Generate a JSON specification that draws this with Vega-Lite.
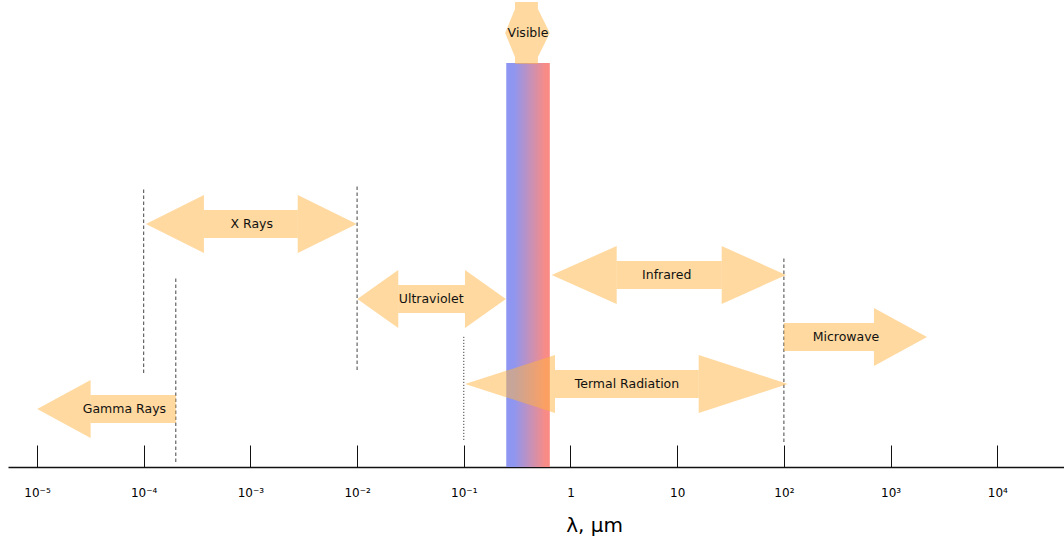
{
  "$schema": "https://vega.github.io/schema/vega-lite/v6.json",
  "width": 1056,
  "height": 467,
  "autosize": {"type": "none"},
  "padding": {"left": 8, "top": 0, "right": 0, "bottom": 75},
  "background": "white",
  "config": {
    "view": {"stroke": null},
    "axisX": {
      "labelExpr": "['10⁻⁵','10⁻⁴','10⁻³','10⁻²','10⁻¹','1','10','10²','10³','10⁴'][round(log(datum.value)/LN10)+5]",
      "grid": false,
      "domainColor": "#111111",
      "domainWidth": 1.5,
      "tickColor": "#111111",
      "tickWidth": 1,
      "tickSize": -22,
      "labelFont": "DejaVu Sans",
      "labelFontSize": 12,
      "labelColor": "#000000",
      "labelPadding": 42,
      "labelFlush": false,
      "labelOverlap": false,
      "titleFont": "DejaVu Sans",
      "titleFontSize": 20,
      "titleFontWeight": "normal",
      "titleColor": "#000000",
      "titleX": 586,
      "titleY": 58,
      "titleAlign": "center",
      "titleBaseline": "middle"
    }
  },
  "datasets": {
    "bands": [
      {"band": "Gamma Rays", "from": 3.18e-5, "to": 2e-4, "level": 58, "labelAt": 6.6e-5, "heads": "left"},
      {"band": "X Rays", "from": 3.67e-4, "to": 2.78e-3, "level": 243, "labelAt": 1.03e-3, "heads": "both"},
      {"band": "Ultraviolet", "from": 0.0243, "to": 0.1026, "level": 168, "labelAt": 0.0495, "heads": "both"},
      {"band": "Visible", "from": 0.302, "to": 0.495, "level": 434, "labelAt": 0.40, "heads": "both"},
      {"band": "Infrared", "from": 2.71, "to": 26.1, "level": 192, "labelAt": 7.97, "heads": "both"},
      {"band": "Termal Radiation", "from": 0.716, "to": 15.9, "level": 83, "labelAt": 3.38, "heads": "both"},
      {"band": "Microwave", "from": 100, "to": 698, "level": 130, "labelAt": 382, "heads": "right"}
    ],
    "boundaries": [
      {"at": 1e-4, "bottom": 94, "top": 279},
      {"at": 2e-4, "bottom": 5, "top": 189},
      {"at": 1e-2, "bottom": 97, "top": 283},
      {"at": 100, "bottom": 25, "top": 211}
    ],
    "fineBoundaries": [
      {"at": 0.1, "bottom": 27, "top": 132}
    ],
    "visibleBand": [
      {"lo": 0.25, "hi": 0.64, "bottom": 0, "top": 404}
    ]
  },
  "layer": [
    {
      "data": {"name": "boundaries"},
      "mark": {"type": "rule", "color": "#444444", "strokeWidth": 1, "strokeDash": [3.5, 2.5]},
      "encoding": {
        "x": {
          "field": "at", "type": "quantitative", "title": "λ, μm",
          "scale": {"type": "log", "domain": [5.35e-6, 42170], "nice": false, "zero": false},
          "axis": {"values": [1e-5, 1e-4, 1e-3, 1e-2, 0.1, 1, 10, 100, 1000, 10000]}
        },
        "y": {"field": "bottom", "type": "quantitative", "scale": {"domain": [0, 467], "nice": false, "zero": false}, "axis": null},
        "y2": {"field": "top"}
      }
    },
    {
      "data": {"name": "fineBoundaries"},
      "mark": {"type": "rule", "color": "#444444", "strokeWidth": 1, "strokeDash": [1.2, 1.8]},
      "encoding": {
        "x": {"field": "at", "type": "quantitative", "title": "λ, μm", "scale": {"type": "log", "domain": [5.35e-6, 42170], "nice": false, "zero": false}},
        "y": {"field": "bottom", "type": "quantitative", "scale": {"domain": [0, 467], "nice": false, "zero": false}, "axis": null},
        "y2": {"field": "top"}
      }
    },
    {
      "data": {"name": "visibleBand"},
      "mark": {
        "type": "rect",
        "fill": {
          "gradient": "linear", "x1": 0, "y1": 0, "x2": 1, "y2": 0,
          "stops": [
            {"offset": 0, "color": "#8D96F2"},
            {"offset": 0.18, "color": "#8F96F0"},
            {"offset": 0.9, "color": "#F98B86"},
            {"offset": 1, "color": "#F98B86"}
          ]
        }
      },
      "encoding": {
        "x": {"field": "lo", "type": "quantitative", "title": "λ, μm", "scale": {"type": "log", "domain": [5.35e-6, 42170], "nice": false, "zero": false}},
        "x2": {"field": "hi"},
        "y": {"field": "bottom", "type": "quantitative", "scale": {"domain": [0, 467], "nice": false, "zero": false}, "axis": null},
        "y2": {"field": "top"}
      }
    },
    {
      "data": {"name": "bands"},
      "transform": [{"filter": "datum.band !== 'Visible'"}],
      "mark": {"type": "rule", "color": "#FFB340", "opacity": 0.5, "strokeWidth": 28, "strokeCap": "butt"},
      "encoding": {
        "x": {"field": "from", "type": "quantitative", "title": "λ, μm", "scale": {"type": "log", "domain": [5.35e-6, 42170], "nice": false, "zero": false}},
        "x2": {"field": "to"},
        "y": {"field": "level", "type": "quantitative", "scale": {"domain": [0, 467], "nice": false, "zero": false}, "axis": null}
      }
    },
    {
      "data": {"name": "bands"},
      "transform": [{"filter": "datum.band === 'Visible'"}],
      "mark": {"type": "rule", "color": "#FFB340", "opacity": 0.5, "strokeWidth": 62, "strokeCap": "butt"},
      "encoding": {
        "x": {"field": "from", "type": "quantitative", "title": "λ, μm", "scale": {"type": "log", "domain": [5.35e-6, 42170], "nice": false, "zero": false}},
        "x2": {"field": "to"},
        "y": {"field": "level", "type": "quantitative", "scale": {"domain": [0, 467], "nice": false, "zero": false}, "axis": null}
      }
    },
    {
      "data": {"name": "bands"},
      "transform": [{"filter": "datum.heads !== 'right'"}],
      "mark": {"type": "point", "filled": true, "color": "#FFB340", "opacity": 0.5, "strokeWidth": 0, "size": 3364},
      "encoding": {
        "x": {"field": "from", "type": "quantitative", "title": "λ, μm", "scale": {"type": "log", "domain": [5.35e-6, 42170], "nice": false, "zero": false}},
        "y": {"field": "level", "type": "quantitative", "scale": {"domain": [0, 467], "nice": false, "zero": false}, "axis": null},
        "shape": {
          "field": "band", "type": "nominal", "legend": null,
          "scale": {
            "domain": ["Gamma Rays", "X Rays", "Ultraviolet", "Visible", "Infrared", "Termal Radiation"],
            "range": [
              "M0,-1L-1.84,0L0,1Z",
              "M0,-1L-2,0L0,1Z",
              "M0,-1L-1.41,0L0,1Z",
              "M0,-0.83L-0.34,0L0,0.83Z",
              "M0,-1L-2.24,0L0,1Z",
              "M0,-1L-3.1,0L0,1Z"
            ]
          }
        }
      }
    },
    {
      "data": {"name": "bands"},
      "transform": [{"filter": "datum.heads !== 'left'"}],
      "mark": {"type": "point", "filled": true, "color": "#FFB340", "opacity": 0.5, "strokeWidth": 0, "size": 3364},
      "encoding": {
        "x": {"field": "to", "type": "quantitative", "title": "λ, μm", "scale": {"type": "log", "domain": [5.35e-6, 42170], "nice": false, "zero": false}},
        "y": {"field": "level", "type": "quantitative", "scale": {"domain": [0, 467], "nice": false, "zero": false}, "axis": null},
        "shape": {
          "field": "band", "type": "nominal", "legend": null,
          "scale": {
            "domain": ["X Rays", "Ultraviolet", "Visible", "Infrared", "Termal Radiation", "Microwave"],
            "range": [
              "M0,-1L2.03,0L0,1Z",
              "M0,-1L1.41,0L0,1Z",
              "M0,-0.83L0.41,0L0,0.83Z",
              "M0,-1L2.22,0L0,1Z",
              "M0,-1L3.07,0L0,1Z",
              "M0,-1L1.83,0L0,1Z"
            ]
          }
        }
      }
    },
    {
      "data": {"name": "bands"},
      "mark": {"type": "text", "font": "DejaVu Sans", "fontSize": 12.5, "color": "#111111", "align": "center", "baseline": "middle"},
      "encoding": {
        "x": {"field": "labelAt", "type": "quantitative", "title": "λ, μm", "scale": {"type": "log", "domain": [5.35e-6, 42170], "nice": false, "zero": false}},
        "y": {"field": "level", "type": "quantitative", "scale": {"domain": [0, 467], "nice": false, "zero": false}, "axis": null},
        "text": {"field": "band"}
      }
    }
  ],
  "resolve": {"scale": {"shape": "independent"}}
}
